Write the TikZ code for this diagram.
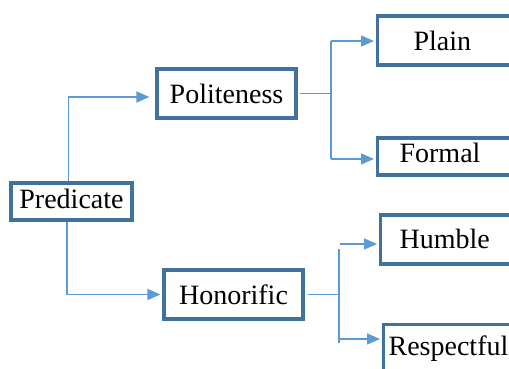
\documentclass[tikz,border=0pt]{standalone}
\usepackage{fontspec}
\setmainfont{Liberation Serif}
\usetikzlibrary{arrows.meta}
\definecolor{boxblue}{RGB}{65,113,156}
\definecolor{linkblue}{RGB}{91,155,213}
\tikzset{
  box/.style={draw=boxblue, line width=3.2pt, fill=white, inner sep=0pt,
    font=\fontsize{28}{33}\selectfont},
  leaf/.style={box, anchor=west, text width=160pt, align=left},
  link/.style={draw=linkblue, line width=1.4pt},
  arrow/.style={link, -{Triangle[length=13pt,width=11pt]}}
}
\begin{document}
\begin{tikzpicture}[x=1pt,y=-1pt]
\path[use as bounding box, clip] (0,0) rectangle (509,369);

\node[box, minimum width=121pt, minimum height=37pt, text depth=6pt] (pred) at (71.5,201.5) {Predicate};
\node[box, minimum width=139pt, minimum height=49pt] (polit) at (226.5,93.5) {Politeness};
\node[box, minimum width=139pt, minimum height=49pt] (honor) at (233.5,294.5) {Honorific};

% right column, cut by the edge
\node[leaf, minimum height=49pt, inner xsep=36pt] (plain) at (376,40.5) {Plain};
\node[leaf, minimum height=37pt, inner xsep=22pt, text depth=8pt] (formal) at (376,156.5) {Formal};
\node[leaf, minimum height=49pt, inner xsep=19pt, text depth=2pt] (humble) at (379,239.5) {Humble};
\node[leaf, minimum height=49pt, inner xsep=5pt] (resp) at (382,349) {Respectful};

% predicate branches
\draw[arrow, shorten >=6pt] ([xshift=-3pt]pred.north) |- ([yshift=-3.5pt]polit.west);
\draw[arrow, shorten >=2pt] ([xshift=-4.5pt]pred.south) |- (honor.west);

% politeness branches
\draw[link, shorten <=2pt] (polit.east) -- ++(34,0) coordinate (j1);
\coordinate (p1) at (331,41);
\coordinate (f1) at (331,159);
\draw[link] (p1) -- (f1);
\draw[arrow, shorten >=2pt] (p1) -- (p1 -| plain.west);
\draw[arrow, shorten >=2pt] (f1) -- (f1 -| formal.west);

% honorific branches
\draw[link, shorten <=3pt] (honor.east) -- ++(35,0) coordinate (j2);
\coordinate (s1) at (339,249);
\coordinate (s2) at (339,343);
\draw[link] (s1) -- (s2);
\coordinate (h1) at (340,244);
\coordinate (r1) at (339,339);
\draw[arrow, shorten >=2pt] (h1) -- (h1 -| humble.west);
\draw[arrow, shorten >=2pt] (r1) -- (r1 -| resp.west);
\end{tikzpicture}
\end{document}
